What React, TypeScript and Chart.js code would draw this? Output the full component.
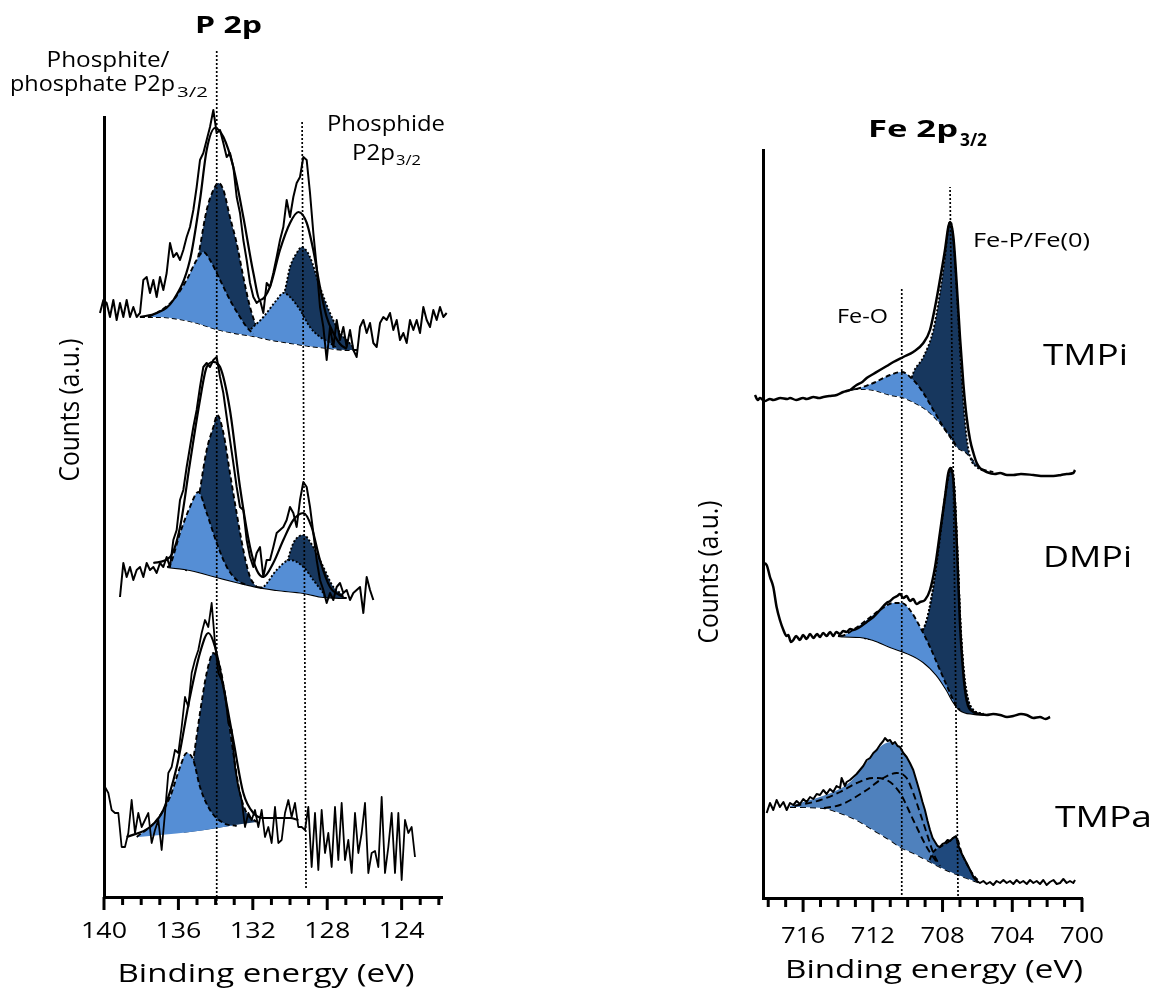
import React, { useEffect, useRef } from "react";
import { Chart, registerables } from "chart.js";

Chart.register(...registerables);

type Pt = [number, number];

const LIGHT = "#558ED5";
const DARK = "#17375E";
const MEDIUM = "#4F81BD";
const DARK2 = "#1F497D";
const FONT = '"Open Sans", "Noto Sans", sans-serif';

// ---------------- P 2p panel ----------------
const P_X_MIN = 121.83;
const P_X_MAX = 140;
const P_Y_MAX = 780;
const P_TICK_LABELS = [140, 136, 132, 128, 124];
const P_STEP = 0.1792;

const P_TOP_START = 140.215;
const P_TOP_RAW = [
  584, 597, 594, 580, 597, 577, 594, 580, 597, 580,
  590, 580, 584, 617, 620, 604, 617, 600, 620, 607,
  624, 654, 640, 644, 637, 647, 660, 670, 687, 710,
  737, 744, 757, 770, 787, 764, 767, 754, 740, 744,
  730, 700, 684, 657, 637, 614, 600, 594, 597, 584,
  614, 610, 624, 640, 657, 670, 697, 680, 700, 714,
  720, 740, 737, 704, 664, 630, 590, 570, 537, 570,
  550, 577, 557, 570, 550, 567, 547, 540, 570, 577,
  564, 574, 554, 550, 574, 580, 577, 584, 567, 577,
  557, 564, 554, 577, 567, 577, 564, 590, 577, 570,
  587, 577, 590, 580, 584,
];
const P_TOP_ENV: Pt[] = [
  [138.07, 580], [137.17, 584], [136.27, 597], [135.38, 637], [134.84, 697], [134.48, 747],
  [134.03, 769], [133.58, 760], [133.05, 730], [132.51, 680], [131.97, 624], [131.61, 597],
  [131.08, 610], [130.54, 647], [130.0, 674], [129.55, 685], [129.1, 674], [128.75, 647],
  [128.39, 610], [128.03, 580], [127.67, 564], [127.31, 553], [126.95, 548],
];
const P_TOP_BG: Pt[] = [
  [138.07, 580], [137.0, 580], [136.0, 578], [135.0, 574], [134.0, 568], [133.0, 564],
  [132.0, 561], [131.0, 557], [130.0, 554], [129.0, 551], [128.0, 549], [127.0, 547], [126.4, 547],
];
const P_TOP_DARK1: Pt[] = [
  [135.4, 576], [135.2, 610], [134.84, 650], [134.48, 687], [134.12, 707], [133.85, 714],
  [133.58, 707], [133.23, 680], [132.87, 654], [132.51, 620], [132.15, 590], [131.79, 570], [131.52, 562],
];
const P_TOP_LIGHT1: Pt[] = [
  [137.6, 580], [137.17, 584], [136.27, 597], [135.56, 617], [135.02, 637], [134.66, 645],
  [134.3, 637], [133.76, 617], [133.23, 597], [132.69, 580], [132.33, 570], [131.97, 563],
];
const P_TOP_DARK2: Pt[] = [
  [131.3, 558], [131.08, 570], [130.72, 584], [130.27, 607], [130.0, 630], [129.64, 644],
  [129.37, 650], [128.93, 640], [128.39, 610], [127.85, 584], [127.31, 564], [126.95, 557], [126.6, 550],
];
const P_TOP_LIGHT2: Pt[] = [
  [132.4, 562], [132.15, 567], [131.43, 580], [130.72, 597], [130.36, 604], [130.0, 600],
  [129.46, 587], [128.93, 570], [128.39, 560], [127.85, 554], [127.5, 549],
];

const P_MID_START = 139.14;
const P_MID_RAW = [
  300, 334, 320, 330, 317, 327, 330, 320, 334, 327,
  330, 324, 334, 330, 340, 330, 357, 367, 397, 407,
  430, 450, 470, 487, 510, 530, 534, 530, 537, 540,
  520, 504, 480, 457, 434, 410, 390, 387, 357, 340,
  330, 344, 350, 320, 337, 337, 350, 364, 367, 370,
  377, 390, 384, 370, 397, 415, 410, 390, 364, 337,
  317, 307, 294, 304, 297, 310, 314, 304, 307, 297,
  304, 307, 310, 284, 320, 307, 297,
];
const P_MID_ENV: Pt[] = [
  [137.35, 334], [136.45, 340], [135.91, 370], [135.38, 434], [134.84, 497], [134.48, 530],
  [134.12, 535], [133.76, 530], [133.23, 487], [132.69, 410], [132.15, 350], [131.79, 327],
  [131.43, 320], [130.9, 334], [130.36, 357], [129.82, 377], [129.28, 384], [128.84, 370],
  [128.39, 337], [127.85, 310], [127.13, 300],
];
const P_MID_BG: Pt[] = [
  [136.6, 330], [135.38, 327], [133.94, 320], [132.69, 314], [131.79, 310], [130.72, 307],
  [129.28, 304], [128.21, 300], [126.95, 299],
];
const P_MID_LIGHT1: Pt[] = [
  [136.6, 330], [136.45, 332], [135.91, 364], [135.38, 390], [134.93, 405], [134.48, 384],
  [133.94, 354], [133.4, 330], [132.87, 317], [132.33, 312],
];
const P_MID_DARK1: Pt[] = [
  [135.6, 326], [135.38, 340], [134.84, 407], [134.48, 447], [134.12, 470], [133.91, 482],
  [133.58, 464], [133.23, 424], [132.87, 384], [132.51, 347], [132.15, 320], [131.79, 310],
];
const P_MID_LIGHT2: Pt[] = [
  [131.6, 309], [131.43, 310], [130.72, 327], [130.0, 337], [129.28, 330], [128.75, 317], [128.21, 304],
];
const P_MID_DARK2: Pt[] = [
  [130.9, 308], [130.72, 310], [130.18, 334], [129.82, 354], [129.28, 362], [128.75, 350],
  [128.21, 330], [127.67, 310], [127.13, 302],
];

const P_BOT_START = 139.947;
const P_BOT_RAW = [
  110, 104, 87, 84, 84, 50, 50, 64, 97, 64,
  84, 70, 77, 84, 54, 67, 77, 47, 84, 124,
  130, 147, 144, 170, 200, 190, 224, 237, 247, 264,
  277, 270, 294, 254, 224, 217, 204, 174, 167, 130,
  110, 97, 70, 84, 77, 87, 70, 87, 60, 70,
  54, 90, 54, 57, 84, 97, 80, 94, 70, 70,
  67, 90, 30, 84, 27, 87, 44, 64, 30, 90,
  37, 94, 37, 57, 24, 84, 44, 64, 94, 24,
  44, 46, 30, 100, 24, 50, 84, 24, 84, 17,
  77, 64, 70, 40,
];
const P_BOT_ENV: Pt[] = [
  [138.78, 60], [137.53, 70], [136.81, 87], [136.09, 130], [135.38, 200], [134.84, 244],
  [134.39, 264], [134.03, 250], [133.58, 210], [133.05, 157], [132.51, 104], [131.97, 84],
  [131.43, 79], [130.72, 79], [130.0, 79], [129.55, 77],
];
const P_BOT_BG: Pt[] = [[138.78, 59], [135.38, 65], [131.79, 75], [129.55, 78]];
const P_BOT_LIGHT: Pt[] = [
  [138.24, 60], [137.17, 77], [136.45, 100], [135.91, 130], [135.56, 144], [135.2, 137],
  [134.84, 110], [134.3, 87], [133.58, 74], [132.87, 71],
];
const P_BOT_DARK: Pt[] = [
  [135.73, 70], [135.2, 137], [134.84, 184], [134.48, 224], [134.12, 244], [133.76, 230],
  [133.4, 190], [133.05, 144], [132.69, 104], [132.33, 84], [131.79, 75],
];

// marker lines: [x bottom, y bottom, x top, y top]
const P_MARKERS: [number, number, number, number][] = [
  [133.94, -8, 133.94, 847],
  [129.14, 9, 129.35, 775],
];

// ---------------- Fe 2p3/2 panel ----------------
const FE_X_MIN = 700;
const FE_X_MAX = 718.3;
const FE_Y_MAX = 748;
const FE_TICK_LABELS = [716, 712, 708, 704, 700];

const FE_TMPI_RAW: Pt[] = [
  [718.76, 503], [718.6, 498], [718.47, 500], [718.2, 497], [717.9, 499], [717.71, 498],
  [717.3, 500], [716.9, 499], [716.75, 500], [716.4, 498], [716.0, 500], [715.8, 499],
  [715.4, 501], [715.1, 500], [714.84, 501], [714.5, 502], [714.07, 503], [713.7, 506],
  [713.31, 508], [712.93, 513], [712.6, 516], [712.35, 520], [711.97, 524], [711.59, 528],
  [711.2, 532], [710.82, 536], [710.25, 541], [709.68, 546], [709.1, 555], [708.72, 568],
  [708.43, 591], [708.15, 618], [707.86, 648], [707.67, 671], [707.57, 676], [707.38, 661],
  [707.19, 615], [707.0, 561], [706.81, 515], [706.62, 481], [706.42, 458], [706.23, 445],
  [706.04, 435], [705.85, 430], [705.47, 426], [705.0, 424], [704.7, 425], [704.3, 423],
  [703.94, 423], [703.5, 424], [702.79, 423], [702.2, 422], [701.64, 422], [701.2, 423],
  [700.88, 424], [700.5, 425], [700.4, 428],
];
const FE_TMPI_BG: Pt[] = [
  [713.6, 507], [713.31, 508], [712.93, 509], [711.97, 508], [711.01, 503], [710.35, 501], [709.68, 496],
  [708.91, 488], [708.15, 475], [707.57, 461], [707.19, 451], [706.62, 445], [706.23, 437],
  [705.85, 430], [705.09, 426],
];
const FE_TMPI_OX: Pt[] = [
  [713.4, 507.5], [713.1, 508.5], [712.74, 510], [711.97, 515], [711.01, 523], [710.35, 526], [709.68, 518],
  [709.1, 505], [708.53, 488], [707.95, 471], [707.38, 457], [707.19, 451],
];
const FE_TMPI_FEP: Pt[] = [
  [710.06, 501], [709.68, 525], [709.1, 541], [708.53, 568], [708.15, 605], [707.86, 641],
  [707.61, 675], [707.53, 676], [707.38, 658], [707.19, 608], [707.0, 548], [706.81, 498],
  [706.62, 461], [706.42, 441], [706.04, 431], [705.47, 426],
];

const FE_DMPI_RAW: Pt[] = [
  [718.28, 335], [718.09, 333], [717.9, 321], [717.71, 311], [717.52, 291], [717.33, 278],
  [717.13, 268], [716.95, 262], [716.85, 263], [716.7, 256], [716.56, 258], [716.4, 262],
  [716.18, 258], [716.0, 263], [715.8, 259], [715.6, 264], [715.41, 260], [715.2, 264],
  [715.03, 261], [714.85, 265], [714.65, 262], [714.45, 266], [714.27, 262], [714.1, 266],
  [713.88, 264], [713.7, 267], [713.5, 266], [713.3, 269], [713.12, 268], [712.74, 271],
  [712.35, 276], [711.97, 281], [711.59, 288], [711.21, 295], [711.0, 297], [710.82, 300],
  [710.6, 302], [710.44, 304], [710.25, 300], [710.06, 302], [709.87, 297], [709.68, 299],
  [709.5, 294], [709.29, 296], [709.01, 298], [708.72, 308], [708.43, 331], [708.15, 365],
  [707.86, 401], [707.67, 425], [707.53, 430], [707.38, 418], [707.19, 358], [707.0, 275],
  [706.81, 225], [706.62, 198], [706.23, 186], [705.85, 184], [705.47, 183], [705.1, 184],
  [704.7, 183], [704.3, 181], [703.94, 182], [703.5, 184], [703.17, 183], [702.8, 180],
  [702.41, 181], [702.1, 179], [701.83, 181],
];
const FE_DMPI_BG: Pt[] = [
  [714.0, 262], [713.69, 261.5], [712.74, 261], [711.97, 258], [711.01, 251], [710.06, 245], [709.1, 236],
  [708.34, 223], [707.76, 208], [707.38, 196], [707.0, 188], [706.23, 184], [705.5, 183],
];
const FE_DMPI_OX: Pt[] = [
  [713.85, 262], [713.69, 262.5], [713.5, 264], [712.35, 278], [711.59, 288], [710.82, 295], [710.35, 295],
  [709.87, 288], [709.29, 271], [708.72, 251], [708.15, 228], [707.57, 205], [707.19, 191], [707.0, 188],
];
const FE_DMPI_FEP: Pt[] = [
  [712.5, 260], [711.97, 259], [711.21, 261], [710.44, 256], [709.68, 259], [709.2, 266],
  [708.91, 278], [708.63, 301], [708.34, 335], [708.05, 375], [707.8, 408], [707.61, 426],
  [707.51, 430], [707.34, 415], [707.15, 348], [706.96, 271], [706.77, 225], [706.52, 198],
  [706.23, 188], [705.66, 184],
];

const FE_TMPA_RAW: Pt[] = [
  [718.09, 85], [717.9, 95], [717.71, 88], [717.52, 98], [717.33, 91], [717.13, 96],
  [716.94, 88], [716.75, 95], [716.56, 93], [716.37, 97], [716.18, 94], [715.99, 99],
  [715.8, 96], [715.6, 101], [715.41, 99], [715.22, 104], [715.03, 103], [714.84, 108],
  [714.65, 104], [714.46, 109], [714.27, 106], [714.08, 112], [713.88, 110], [713.79, 120],
  [713.6, 112], [713.5, 116], [713.31, 118], [713.12, 121], [712.93, 124], [712.74, 128],
  [712.55, 132], [712.35, 138], [712.16, 140], [711.97, 145], [711.78, 148], [711.59, 153],
  [711.4, 157], [711.3, 160], [711.15, 157], [711.01, 158], [710.87, 154], [710.73, 156],
  [710.58, 152], [710.44, 151], [710.25, 145], [710.06, 141], [709.87, 135], [709.68, 128],
  [709.49, 117], [709.29, 105], [709.15, 96], [709.01, 88], [708.86, 77], [708.72, 68],
  [708.57, 60], [708.43, 56], [708.29, 52], [708.15, 51], [708.0, 54], [707.86, 55],
  [707.71, 58], [707.57, 57], [707.4, 60], [707.23, 62], [707.1, 53], [707.0, 48],
  [706.81, 41], [706.62, 35], [706.42, 28], [706.23, 21], [706.04, 17], [705.85, 15],
  [705.66, 17], [705.47, 14], [705.28, 16], [705.09, 13], [704.9, 17], [704.7, 15],
  [704.51, 18], [704.32, 15], [704.13, 17], [703.94, 14], [703.75, 18], [703.56, 15],
  [703.37, 17], [703.17, 14], [702.98, 18], [702.79, 15], [702.6, 17], [702.41, 14],
  [702.22, 18], [702.03, 13], [701.84, 16], [701.64, 18], [701.45, 14], [701.26, 15],
  [701.07, 19], [700.88, 15], [700.69, 17], [700.5, 15], [700.4, 18],
];
const FE_TMPA_ENV: Pt[] = [
  [716.75, 92], [715.41, 99], [714.27, 106], [713.31, 116], [712.35, 136], [711.59, 151],
  [711.01, 156], [710.44, 150], [710.06, 141], [709.68, 128], [709.29, 105], [708.91, 82],
  [708.53, 60], [708.15, 51], [707.76, 55], [707.38, 60], [707.0, 48], [706.62, 34],
  [706.23, 21], [705.85, 15],
];
const FE_TMPA_BG: Pt[] = [
  [716.75, 91], [714.84, 90], [713.88, 85], [712.93, 78], [711.97, 68], [711.01, 58],
  [710.44, 51], [709.68, 45], [708.91, 38], [708.15, 31], [707.38, 25], [706.62, 20], [705.85, 15],
];
const FE_TMPA_OX1: Pt[] = [
  [716.5, 92], [715.0, 98], [713.88, 106], [712.93, 115], [711.97, 120], [711.21, 118],
  [710.44, 105], [709.68, 78], [708.91, 51], [708.34, 36],
];
const FE_TMPA_OX2: Pt[] = [
  [714.8, 90], [713.88, 93], [712.35, 108], [711.4, 120], [710.63, 125], [710.06, 120],
  [709.68, 105], [709.29, 85], [708.91, 65], [708.53, 45], [708.15, 32],
];
const FE_TMPA_FEP: Pt[] = [
  [708.75, 38], [708.53, 46], [708.15, 51], [707.76, 55], [707.23, 61], [706.9, 45],
  [706.42, 28], [705.85, 15],
];

const FE_MARKERS: [number, number, number, number][] = [
  [710.34, 3, 710.34, 610],
  [707.11, 2, 707.57, 711],
];

// ---------------- helpers ----------------
type XY = { x: number; y: number };
const xy = (arr: Pt[]): XY[] => arr.map(([x, y]) => ({ x, y })).sort((a, b) => b.x - a.x);
const grid = (start: number, step: number, vals: number[]): XY[] =>
  vals.map((y, i) => ({ x: start - i * step, y }));

type Peak = { pts: Pt[]; color: string | null; dash: number[] };
interface Spectrum {
  bg: Pt[];
  bgWidth: number;
  bgDash: number[];
  envFill?: { pts: Pt[]; color: string };
  back: Peak[];
  front: Peak[];
  env?: Pt[];
  raw: XY[];
  rawSmooth?: boolean;
  rawWidth: number;
}

function addSpectrum(ds: any[], s: Spectrum) {
  const bgIdx = ds.length;
  ds.push({
    data: xy(s.bg), borderColor: "#000", borderWidth: s.bgWidth, borderDash: s.bgDash,
    fill: false, order: 7, cubicInterpolationMode: "monotone", clip: false,
  });
  if (s.envFill) {
    ds.push({
      data: xy(s.envFill.pts), borderWidth: 0, borderColor: "rgba(0,0,0,0)",
      backgroundColor: s.envFill.color, fill: bgIdx, order: 6,
      cubicInterpolationMode: "monotone", clip: false,
    });
  }
  const pushPeak = (p: Peak, order: number) => {
    ds.push({
      data: xy(p.pts), borderColor: "#000", borderWidth: 1.9, borderDash: p.dash,
      backgroundColor: p.color || "rgba(0,0,0,0)", fill: p.color ? bgIdx : false,
      order, cubicInterpolationMode: "monotone", clip: false,
    });
  };
  s.back.forEach((p) => pushPeak(p, 5));
  s.front.forEach((p) => pushPeak(p, 4));
  if (s.env) {
    ds.push({
      data: xy(s.env), borderColor: "#000", borderWidth: 2.2, fill: false, order: 2,
      cubicInterpolationMode: "monotone", clip: false,
    });
  }
  ds.push({
    data: s.raw, borderColor: "#000", borderWidth: s.rawWidth, fill: false, order: 1,
    tension: 0, cubicInterpolationMode: s.rawSmooth ? "monotone" : "default", clip: false,
  });
}

function addMarkers(ds: any[], markers: [number, number, number, number][]) {
  markers.forEach(([x0, y0, x1, y1]) => {
    ds.push({
      data: [{ x: x0, y: y0 }, { x: x1, y: y1 }], borderColor: "#000", borderWidth: 1.7,
      borderDash: [2, 2], fill: false, order: 0, tension: 0, clip: false,
    });
  });
}

function fitText(
  ctx: CanvasRenderingContext2D, text: string, x: number, y: number, font: string,
  width: number, align: CanvasTextAlign = "center", rotate = 0, baseline: CanvasTextBaseline = "alphabetic",
) {
  ctx.save();
  ctx.font = font;
  const w = ctx.measureText(text).width || 1;
  ctx.translate(x, y);
  if (rotate) ctx.rotate(rotate);
  ctx.scale(width / w, 1);
  ctx.textAlign = align;
  ctx.textBaseline = baseline;
  ctx.fillStyle = "#000";
  ctx.fillText(text, 0, 0);
  ctx.restore();
}

function drawTicks(chart: any, labels: number[], labelBaseline: number, labelWidth: number, majorLen: number, minorLen: number) {
  const ctx = chart.ctx as CanvasRenderingContext2D;
  const xs = chart.scales.x;
  const yb = chart.chartArea.bottom;
  ctx.save();
  ctx.strokeStyle = "#000";
  ctx.lineWidth = 3;
  for (let v = Math.ceil(xs.min); v <= Math.floor(xs.max); v++) {
    const px = xs.getPixelForValue(v);
    const major = labels.indexOf(v) >= 0;
    ctx.beginPath();
    ctx.moveTo(px, yb);
    ctx.lineTo(px, yb + (major ? majorLen : minorLen));
    ctx.stroke();
  }
  ctx.restore();
  labels.forEach((v) => {
    fitText(ctx, String(v), xs.getPixelForValue(v), labelBaseline, `22px ${FONT}`, labelWidth);
  });
}

const leftDeco = {
  id: "leftDeco",
  afterDraw(chart: any) {
    const ctx = chart.ctx as CanvasRenderingContext2D;
    drawTicks(chart, P_TICK_LABELS, 938, 46, 13, 8);
    fitText(ctx, "Binding energy (eV)", 266, 982, `26px ${FONT}`, 297);
    fitText(ctx, "Counts (a.u.)", 71, 410, `28px ${FONT}`, 143, "center", -Math.PI / 2, "middle");
    fitText(ctx, "P 2p", 228.5, 33, `bold 23px ${FONT}`, 67);
    fitText(ctx, "Phosphite/", 108, 67, `21px ${FONT}`, 123);
    fitText(ctx, "phosphate P2p", 10, 91, `21px ${FONT}`, 165, "left");
    fitText(ctx, "3/2", 177, 97, `15px ${FONT}`, 31, "left");
    fitText(ctx, "Phosphide", 386, 131, `21px ${FONT}`, 118);
    fitText(ctx, "P2p", 352, 160, `21px ${FONT}`, 43, "left");
    fitText(ctx, "3/2", 396, 165, `15px ${FONT}`, 25, "left");
  },
};

const rightDeco = {
  id: "rightDeco",
  afterDraw(chart: any) {
    const ctx = chart.ctx as CanvasRenderingContext2D;
    drawTicks(chart, FE_TICK_LABELS, 943, 44, 14, 9);
    fitText(ctx, "Binding energy (eV)", 357, 978, `26px ${FONT}`, 298);
    fitText(ctx, "Counts (a.u.)", 133, 572, `28px ${FONT}`, 143, "center", -Math.PI / 2, "middle");
    fitText(ctx, "Fe 2p", 291, 137, `bold 24px ${FONT}`, 90, "left");
    fitText(ctx, "3/2", 383, 146, `bold 17px ${FONT}`, 27, "left");
    fitText(ctx, "Fe-P/Fe(0)", 396, 247, `20px ${FONT}`, 117, "left");
    fitText(ctx, "Fe-O", 260, 323, `20px ${FONT}`, 51, "left");
    fitText(ctx, "TMPi", 466, 365, `30px ${FONT}`, 85, "left");
    fitText(ctx, "DMPi", 466, 567, `30px ${FONT}`, 89, "left");
    fitText(ctx, "TMPa", 478, 827, `30px ${FONT}`, 97, "left");
  },
};

function buildLeft() {
  const ds: any[] = [];
  addSpectrum(ds, {
    bg: P_TOP_BG, bgWidth: 1.8, bgDash: [5, 3],
    back: [
      { pts: P_TOP_DARK1, color: DARK, dash: [5, 3] },
      { pts: P_TOP_DARK2, color: DARK, dash: [2, 2] },
    ],
    front: [
      { pts: P_TOP_LIGHT1, color: LIGHT, dash: [5, 3] },
      { pts: P_TOP_LIGHT2, color: LIGHT, dash: [2, 2] },
    ],
    env: P_TOP_ENV,
    raw: grid(P_TOP_START, P_STEP, P_TOP_RAW), rawWidth: 2,
  });
  addSpectrum(ds, {
    bg: P_MID_BG, bgWidth: 2.2, bgDash: [],
    back: [
      { pts: P_MID_DARK1, color: DARK, dash: [5, 3] },
      { pts: P_MID_DARK2, color: DARK, dash: [2, 2] },
    ],
    front: [
      { pts: P_MID_LIGHT1, color: LIGHT, dash: [5, 3] },
      { pts: P_MID_LIGHT2, color: LIGHT, dash: [2, 2] },
    ],
    env: P_MID_ENV,
    raw: grid(P_MID_START, P_STEP, P_MID_RAW), rawWidth: 2,
  });
  addSpectrum(ds, {
    bg: P_BOT_BG, bgWidth: 0, bgDash: [],
    back: [{ pts: P_BOT_DARK, color: DARK, dash: [5, 3] }],
    front: [{ pts: P_BOT_LIGHT, color: LIGHT, dash: [5, 3] }],
    env: P_BOT_ENV,
    raw: grid(P_BOT_START, P_STEP, P_BOT_RAW), rawWidth: 1.8,
  });
  addMarkers(ds, P_MARKERS);
  return ds;
}

function buildRight() {
  const ds: any[] = [];
  addSpectrum(ds, {
    bg: FE_TMPI_BG, bgWidth: 1.8, bgDash: [5, 3],
    back: [{ pts: FE_TMPI_FEP, color: DARK, dash: [2, 2] }],
    front: [{ pts: FE_TMPI_OX, color: LIGHT, dash: [5, 3] }],
    raw: xy(FE_TMPI_RAW), rawSmooth: true, rawWidth: 2.5,
  });
  addSpectrum(ds, {
    bg: FE_DMPI_BG, bgWidth: 2.2, bgDash: [],
    back: [{ pts: FE_DMPI_FEP, color: DARK, dash: [2, 2] }],
    front: [
      { pts: FE_DMPI_OX, color: LIGHT, dash: [5, 3] },
      { pts: FE_DMPI_FEP, color: null, dash: [2, 2] },
    ],
    raw: xy(FE_DMPI_RAW), rawSmooth: true, rawWidth: 2.5,
  });
  addSpectrum(ds, {
    bg: FE_TMPA_BG, bgWidth: 1.8, bgDash: [6, 4],
    envFill: { pts: FE_TMPA_ENV, color: MEDIUM },
    back: [{ pts: FE_TMPA_FEP, color: DARK2, dash: [5, 3] }],
    front: [
      { pts: FE_TMPA_OX1, color: null, dash: [7, 4] },
      { pts: FE_TMPA_OX2, color: null, dash: [7, 4] },
    ],
    raw: xy(FE_TMPA_RAW), rawSmooth: false, rawWidth: 2,
  });
  addMarkers(ds, FE_MARKERS);
  return ds;
}

function makeChart(
  canvas: HTMLCanvasElement, datasets: any[], xMin: number, xMax: number, yMax: number,
  pad: { top: number; right: number }, yw: number, xh: number, plugin: any,
) {
  return new Chart(canvas, {
    type: "line",
    data: { datasets },
    options: {
      animation: false,
      responsive: false,
      maintainAspectRatio: false,
      devicePixelRatio: 1,
      events: [],
      layout: { padding: { left: 0, top: pad.top, right: pad.right, bottom: 0 } },
      plugins: { legend: { display: false }, tooltip: { enabled: false }, title: { display: false } },
      elements: { point: { radius: 0, hoverRadius: 0 }, line: { borderJoinStyle: "round", borderCapStyle: "butt" } },
      scales: {
        x: {
          type: "linear", reverse: true, min: xMin, max: xMax,
          ticks: { display: false },
          grid: { display: false },
          border: { display: true, width: 3, color: "#000" },
          afterFit: (s: any) => { s.height = xh; },
        },
        y: {
          type: "linear", min: 0, max: yMax,
          ticks: { display: false },
          grid: { display: false },
          border: { display: true, width: 3, color: "#000" },
          afterFit: (s: any) => { s.width = yw; },
        },
      },
    } as any,
    plugins: [plugin],
  });
}

export default function App() {
  const leftRef = useRef<HTMLCanvasElement>(null);
  const rightRef = useRef<HTMLCanvasElement>(null);
  useEffect(() => {
    const c1 = makeChart(leftRef.current!, buildLeft(), P_X_MIN, P_X_MAX, P_Y_MAX, { top: 117, right: 135 }, 104, 93, leftDeco);
    const c2 = makeChart(rightRef.current!, buildRight(), FE_X_MIN, FE_X_MAX, FE_Y_MAX, { top: 150, right: 72 }, 186, 92, rightDeco);
    return () => { c1.destroy(); c2.destroy(); };
  }, []);
  return (
    <div style={{ position: "absolute", left: 0, top: 0, width: 1154, height: 990, background: "#fff" }}>
      <canvas ref={leftRef} width={577} height={990} style={{ position: "absolute", left: 0, top: 0, width: 577, height: 990 }} />
      <canvas ref={rightRef} width={577} height={990} style={{ position: "absolute", left: 577, top: 0, width: 577, height: 990 }} />
    </div>
  );
}
